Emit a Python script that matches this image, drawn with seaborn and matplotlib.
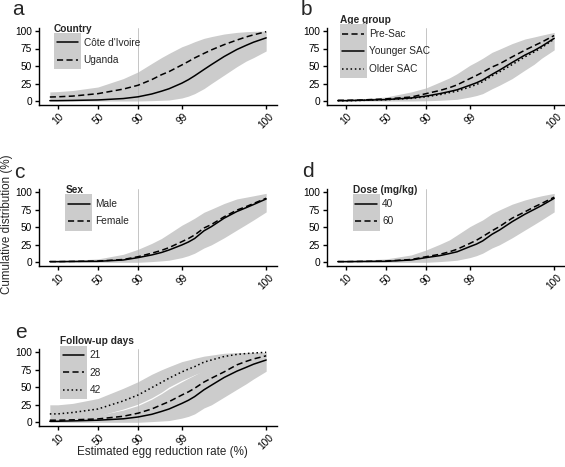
import numpy as np
import pandas as pd
import matplotlib
matplotlib.use("Agg")
import matplotlib.pyplot as plt
import seaborn as sns
from matplotlib.lines import Line2D
from matplotlib.patches import Rectangle
from matplotlib.ticker import NullLocator, FixedLocator, FixedFormatter

sns.set_theme(style="ticks")
plt.rcParams["font.family"] = ["Liberation Sans", "DejaVu Sans"]

# ---------------- data ----------------
ERR = [6.7, 10, 20, 50, 80, 90, 95, 97, 98, 99, 99.3, 99.5, 99.7, 99.8,
       99.9, 99.95, 99.97, 99.98, 99.99]
XTICKS = [10, 50, 90, 99, 99.99]
XTICKLABELS = ["10", "50", "90", "99", "100"]
YTICKS = [0, 25, 50, 75, 100]

# a: Country
a_civ = [0.5, 0.5, 0.8, 1.5, 3.5, 6, 10, 14, 17.5, 25.5, 30.5, 36, 45, 52, 63.5, 73.5, 79.5, 84, 90.2]
a_uga = [5.7, 6, 7, 10.5, 17, 22.5, 30.5, 37.5, 42, 51.5, 56.5, 61.5, 68, 73, 80.5, 87, 91.5, 94.5, 99]
a_hi = [13, 13.4, 15, 20, 32, 41.6, 53.6, 62, 68, 77.5, 81, 84.7, 89.5, 92, 95.7, 98, 99, 99.5, 100]
a_lo = [0, 0, 0, 0, 0, 0, 0.5, 1, 1.4, 4.3, 7, 10.5, 17.7, 25, 37, 49, 57, 62, 71.5]

# b: Age group
b_pre = [1, 1, 1.4, 3, 5.7, 10.5, 15, 19, 23, 32, 36.5, 41, 48.5, 53, 63, 72.5, 79, 84, 93.5]
b_young = [0.5, 0.5, 1, 2, 4.3, 7, 10.5, 13.5, 16, 22.5, 26, 30, 38, 44, 55, 65.5, 72, 78, 89.5]
b_old = [0.3, 0.3, 0.8, 1.8, 3.8, 6, 9, 12, 14, 20, 23.5, 27.5, 36, 41.5, 52, 63, 70, 76, 88.5]
b_hi = [2.4, 2.6, 3, 5.7, 13, 18.7, 27, 33, 39, 51, 56, 61, 69.5, 74, 82, 88.5, 91.5, 94, 98]
b_lo = [0, 0, 0, 0, 0, 0.3, 1, 1.8, 2.4, 5.7, 7.8, 10.5, 17.5, 22.5, 32, 44, 52.5, 61, 73]

# c: Sex
c_male = [1, 1, 1.2, 1.4, 3.3, 6.7, 10.5, 14, 17.6, 24.8, 29, 34, 45, 51, 63, 72.5, 78, 82.5, 90.5]
c_female = [1, 1, 1.3, 1.8, 4, 8, 13, 17, 21, 29.5, 34, 39, 49, 54, 65, 74.5, 79.5, 84, 91.5]
c_hi = [2, 2.2, 3, 4.8, 11.4, 18.6, 27, 34, 41, 53, 58, 63, 71.5, 76, 84, 90.5, 93, 95, 98.5]
c_lo = [0, 0, 0, 0, 0, 0, 1, 2, 3, 6.7, 9.5, 13, 20.5, 25, 35, 46, 54, 60.5, 72]

# d: Dose
d_40 = [1, 1, 1.2, 1.4, 3.3, 6.7, 9.5, 12.5, 15, 22.4, 26, 30.5, 40, 46, 58, 68.6, 75.5, 81, 91.4]
d_60 = [1, 1, 1.3, 1.8, 4, 8, 11.4, 15, 18.6, 27, 31.5, 36.7, 45, 51, 63, 72, 79, 84, 93]
d_hi = [2, 2.2, 3, 4.8, 10.5, 17.6, 25.7, 32, 39, 51, 56, 60.5, 69.5, 74.8, 83, 89, 92.5, 95, 98.5]
d_lo = [0, 0, 0, 0, 0, 0, 1, 2, 3, 6.7, 9.5, 13, 20.5, 25, 35, 46, 54, 60.5, 72]

# e: Follow-up days
e_21 = [1.4, 1.5, 2, 3, 5, 7.6, 11.4, 15.5, 19, 27, 31.5, 36.7, 46.5, 53, 64, 73, 78.5, 83, 89]
e_28 = [3, 3, 3.5, 4.8, 8.6, 13, 19, 25, 29.5, 39, 43.5, 48.6, 57.5, 63, 72, 82, 87, 90.5, 95]
e_42 = [12, 12, 14, 19, 30.5, 39, 49.5, 57, 63, 72, 76, 79.5, 86, 89, 94, 97, 98.2, 99, 100]
e42_hi = [25, 25, 27, 34, 48.6, 58, 68.6, 75, 79.5, 86.7, 89, 91.4, 94.5, 96, 98.6, 99.5, 99.8, 100, 100]
e42_lo = [3, 3.5, 4.5, 9, 19, 26, 35, 43, 50.5, 60, 64, 68, 73, 76, 83, 88, 91, 93, 96]
e2128_hi = [5, 5.5, 6.5, 10, 17.5, 24, 33, 41, 48, 58, 63, 67.5, 74.5, 78, 85, 91, 94, 96, 98.5]
e2128_lo = [0, 0, 0, 0, 0, 0, 1, 1.8, 2.5, 6, 8.5, 12, 20.5, 25, 36, 47, 55, 62, 73]

# ---------------- styling ----------------
GREY = "#CCCCCC"
LW = 1.1
DASH = {"solid": "", "dashed": (4, 2.2), "dotted": (1, 1.8)}
FS = 7.3

W, H = 565, 467
fig = plt.figure(figsize=(W / 100, H / 100), dpi=100)


def add_axes(left, top, w=238, h=77):
    return fig.add_axes([left / W, 1 - (top + h) / H, w / W, h / H])


class GreyKey:
    def legend_artist(self, legend, orig_handle, fontsize, handlebox):
        x0, y0 = handlebox.xdescent, handlebox.ydescent
        w, h = handlebox.width, handlebox.height
        t = handlebox.get_transform()
        rect = Rectangle((-x0, -y0 - 0.3), w, h + 0.6, facecolor=GREY,
                         edgecolor="none", transform=t)
        yc = -y0 + h / 2
        line = Line2D([-x0 + 0.1 * w, -x0 + 0.9 * w], [yc, yc])
        line.update_from(orig_handle)
        line.set_transform(t)
        handlebox.add_artist(rect)
        handlebox.add_artist(line)
        return line


def panel(ax, groups, bands, title, letter, letter_xy):
    x = np.array(ERR) / 100.0
    for lo, hi in bands:
        ax.fill_between(x, lo, hi, color=GREY, lw=0, zorder=1)
    ax.axvline(0.90, color="#BBBBBB", lw=0.6, zorder=2)
    rows = []
    for name, vals, _ in groups:
        for xi, yi in zip(x, vals):
            rows.append({"err": xi, "cum": yi, "group": name})
    df = pd.DataFrame(rows)
    order = [g[0] for g in groups]
    dashes = {g[0]: DASH[g[2]] for g in groups}
    sns.lineplot(data=df, x="err", y="cum", style="group", style_order=order,
                 dashes=dashes, color="black", lw=LW, estimator=None,
                 legend=False, ax=ax, zorder=3)
    ax.set_xscale("logit")
    # ggplot-like 5% expansion on the logit scale
    lg = np.log(x / (1 - x))
    span = lg.max() - lg.min()
    lo_l, hi_l = lg.min() - 0.05 * span, lg.max() + 0.05 * span
    ax.set_xlim(1 / (1 + np.exp(-lo_l)), 1 / (1 + np.exp(-hi_l)))
    ax.set_ylim(-5, 105)
    ax.xaxis.set_major_locator(FixedLocator([v / 100 for v in XTICKS]))
    ax.xaxis.set_major_formatter(FixedFormatter(XTICKLABELS))
    ax.xaxis.set_minor_locator(NullLocator())
    ax.set_yticks(YTICKS)
    ax.set_yticklabels([str(v) for v in YTICKS])
    ax.tick_params(axis="both", direction="out", length=3, width=1.0,
                   color="black", labelsize=FS, pad=2, labelcolor="black")
    for lab in ax.get_xticklabels():
        lab.set_rotation(45)
        lab.set_ha("center")
    ax.set_xlabel("")
    ax.set_ylabel("")
    for s in ["top", "right"]:
        ax.spines[s].set_visible(False)
    for s in ["left", "bottom"]:
        ax.spines[s].set_linewidth(1.0)
        ax.spines[s].set_color("black")
    handles = []
    for name, _, st in groups:
        hl = Line2D([], [], color="black", lw=LW)
        if DASH[st]:
            hl.set_dashes(DASH[st])
        handles.append(hl)
    leg = ax.legend(handles, order, handler_map={Line2D: GreyKey()},
                    loc="center", bbox_to_anchor=(58 / 238, 1 - 18.7 / 77),
                    frameon=False, fontsize=FS, title=title,
                    title_fontproperties={"weight": "bold", "size": FS},
                    alignment="left", handlelength=2.65, handleheight=2.3,
                    labelspacing=0, handletextpad=0.25, borderpad=0,
                    borderaxespad=0)
    leg.set_zorder(5)
    fig.text(letter_xy[0] / W, 1 - letter_xy[1] / H, letter, fontsize=15,
             va="baseline", ha="left")


ax_a = add_axes(39, 27.5)
panel(ax_a, [("Côte d'Ivoire", a_civ, "solid"), ("Uganda", a_uga, "dashed")],
      [(a_lo, a_hi)], "Country", "a", (12, 15))

ax_b = add_axes(327, 27.5)
panel(ax_b, [("Pre-Sac", b_pre, "dashed"), ("Younger SAC", b_young, "solid"),
             ("Older SAC", b_old, "dotted")],
      [(b_lo, b_hi)], "Age group", "b", (301, 15))

ax_c = add_axes(39, 188.8)
panel(ax_c, [("Male", c_male, "solid"), ("Female", c_female, "dashed")],
      [(c_lo, c_hi)], "Sex", "c", (14, 178))

ax_d = add_axes(327, 188.8)
panel(ax_d, [("40", d_40, "solid"), ("60", d_60, "dashed")],
      [(d_lo, d_hi)], "Dose (mg/kg)", "d", (302, 177))

ax_e = add_axes(39, 348.8)
panel(ax_e, [("21", e_21, "solid"), ("28", e_28, "dashed"), ("42", e_42, "dotted")],
      [(e42_lo, e42_hi), (e2128_lo, e2128_hi)], "Follow-up days", "e", (15, 338))

fig.text(7 / W, 1 - 224 / H, "Cumulative distribution (%)", rotation=90,
         fontsize=8.4, ha="center", va="center")
fig.text(162 / W, 1 - 452 / H, "Estimated egg reduction rate (%)",
         fontsize=8.4, ha="center", va="center")

fig.savefig("out.png", dpi=100)
